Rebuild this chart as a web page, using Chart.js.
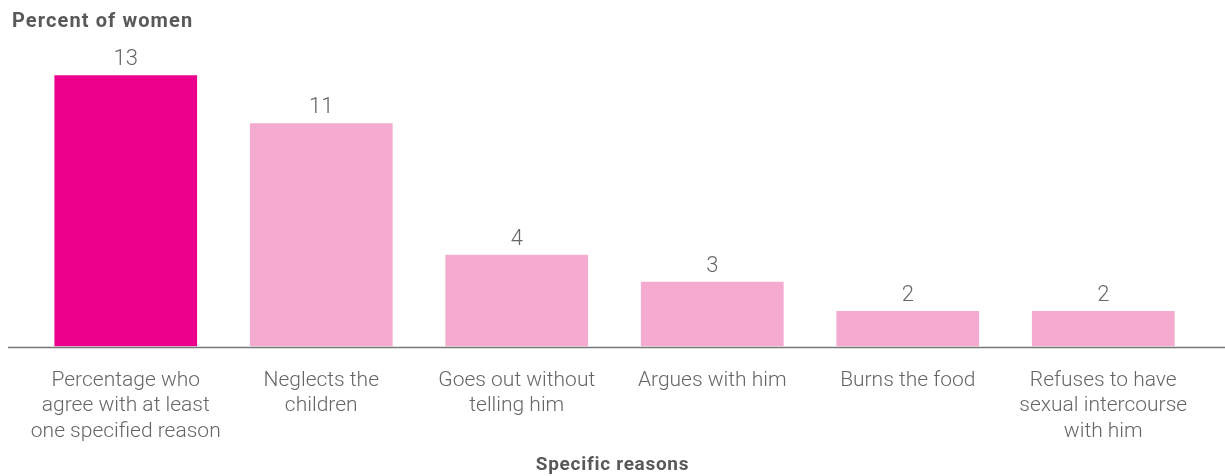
<!DOCTYPE html>
<html>
<head>
<meta charset="utf-8">
<script src="https://cdn.jsdelivr.net/npm/chart.js@4/dist/chart.umd.min.js"></script>
<style>
  html, body { margin: 0; padding: 0; background: #fff; }
  #wrap { width: 1225px; height: 476px; }
</style>
</head>
<body>
<div id="wrap"><canvas id="reasonsChart"></canvas></div>
<script>
const categories = [
    ['Percentage who', 'agree with at least', 'one specified reason'],
    ['Neglects the', 'children'],
    ['Goes out without', 'telling him'],
    ['Argues with him'],
    ['Burns the food'],
    ['Refuses to have', 'sexual intercourse', 'with him']
];
const percentWomen = [13, 10.7, 4.4, 3.1, 1.7, 1.7];
const barColors = ['#EC008C', '#F5AACF', '#F5AACF', '#F5AACF', '#F5AACF', '#F5AACF'];
const yTitle = 'Percent of women';
const xTitle = 'Specific reasons';

// value labels, axis titles and the baseline across the full width
const extras = {
    id: 'extras',
    afterDatasetsDraw(chart) {
        const ctx = chart.ctx;
        const meta = chart.getDatasetMeta(0);
        ctx.save();
        ctx.font = '300 22px Roboto, "Liberation Sans", sans-serif';
        ctx.fillStyle = '#666';
        ctx.textAlign = 'center';
        ctx.textBaseline = 'alphabetic';
        meta.data.forEach((bar, i) => {
            ctx.fillText(Math.round(percentWomen[i]), bar.x, bar.y - 10);
        });

        ctx.fillStyle = '#58595b';
        ctx.textBaseline = 'middle';
        ctx.font = 'bold 20px Roboto, "Liberation Sans", sans-serif';
        ctx.letterSpacing = '1.1px';
        ctx.textAlign = 'left';
        ctx.fillText(yTitle, 12, 22);
        ctx.font = 'bold 19px Roboto, "Liberation Sans", sans-serif';
        ctx.letterSpacing = '0.7px';
        ctx.textAlign = 'center';
        ctx.fillText(xTitle, chart.width / 2, 465);

        const y = chart.chartArea.bottom + 1;
        ctx.strokeStyle = '#777';
        ctx.lineWidth = 1.5;
        ctx.beginPath();
        ctx.moveTo(8, y);
        ctx.lineTo(chart.width, y);
        ctx.stroke();
        ctx.restore();
    }
};

new Chart(document.getElementById('reasonsChart'), {
    type: 'bar',
    data: {
        labels: categories,
        datasets: [{
            data: percentWomen,
            backgroundColor: barColors,
            barPercentage: 0.73,
            categoryPercentage: 1
        }]
    },
    options: {
        responsive: true,
        maintainAspectRatio: false,
        animation: false,
        layout: { padding: { left: 28, right: 24, top: 44, bottom: 10 } },
        plugins: {
            legend: { display: false },
            tooltip: { enabled: false }
        },
        scales: {
            x: {
                grid: { display: false, drawTicks: false },
                border: { display: false },
                ticks: {
                    autoSkip: false,
                    maxRotation: 0,
                    padding: 22,
                    color: '#666',
                    font: { family: 'Roboto, "Liberation Sans", sans-serif', size: 21, weight: 300, lineHeight: 1.2 }
                }
            },
            y: {
                display: false,
                min: 0,
                max: 14.5
            }
        }
    },
    plugins: [extras]
});
</script>
</body>
</html>
